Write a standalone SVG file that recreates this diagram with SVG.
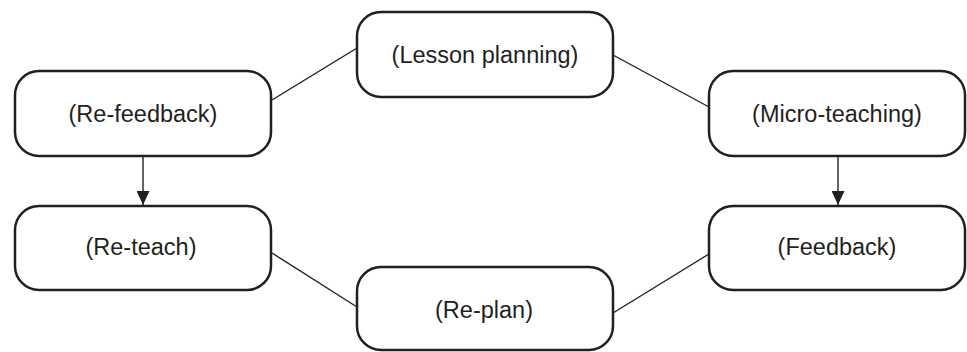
<svg xmlns="http://www.w3.org/2000/svg" width="967" height="352" viewBox="0 0 967 352">
<style>
.box{fill:#fff;stroke:#231f20;stroke-width:2.5}
.lbl{font-family:"Liberation Sans",Arial,sans-serif;font-size:23.5px;fill:#231f20;text-anchor:middle}
.conn{stroke:#231f20;stroke-width:1.4;fill:none}
</style>
<defs>
<marker id="ah" viewBox="0 0 14 13" refX="14" refY="6.5" markerWidth="14" markerHeight="13" markerUnits="userSpaceOnUse" orient="auto">
<path d="M0,0 L14,6.5 L0,13 Z" fill="#231f20"/>
</marker>
</defs>
<rect width="967" height="352" fill="#fff"/>
<g id="connectors">
<line class="conn" x1="272" y1="100" x2="357" y2="48"/>
<line class="conn" x1="613" y1="55" x2="709" y2="107"/>
<line class="conn" x1="143" y1="156" x2="143" y2="205" marker-end="url(#ah)"/>
<line class="conn" x1="838" y1="156" x2="838" y2="205" marker-end="url(#ah)"/>
<line class="conn" x1="272" y1="253" x2="357" y2="307"/>
<line class="conn" x1="613" y1="313" x2="709" y2="254"/>
</g>
<g id="lesson-planning">
<rect class="box" x="357" y="12" width="256" height="85" rx="24"/>
<text class="lbl" x="485" y="63">(Lesson planning)</text>
</g>
<g id="re-feedback">
<rect class="box" x="15" y="71" width="256" height="85" rx="24"/>
<text class="lbl" x="143" y="122">(Re-feedback)</text>
</g>
<g id="micro-teaching">
<rect class="box" x="709" y="71" width="256" height="85" rx="24"/>
<text class="lbl" x="837" y="122">(Micro-teaching)</text>
</g>
<g id="re-teach">
<rect class="box" x="15" y="206" width="256" height="84" rx="24"/>
<text class="lbl" x="141" y="255">(Re-teach)</text>
</g>
<g id="feedback">
<rect class="box" x="709" y="206" width="256" height="84" rx="24"/>
<text class="lbl" x="837" y="255">(Feedback)</text>
</g>
<g id="re-plan">
<rect class="box" x="357" y="267" width="256" height="83" rx="24"/>
<text class="lbl" x="484" y="318">(Re-plan)</text>
</g>
</svg>
